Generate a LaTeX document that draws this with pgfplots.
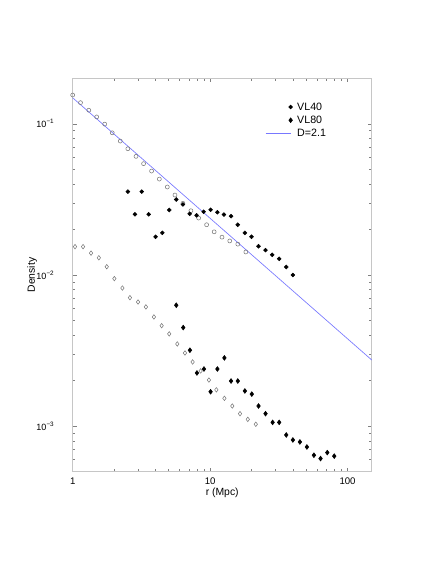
\documentclass[border=0pt]{standalone}
\usepackage{fontspec}
\setmainfont{Liberation Sans}
\usepackage{pgfplots}
\usepackage{pgfplotstable}
\pgfplotsset{compat=1.18}
\definecolor{lineblue}{RGB}{120,120,255}
\definecolor{opengray}{RGB}{120,120,120}

\pgfplotstableread{
r y
1.00 0.155
1.14 0.138
1.31 0.123
1.495 0.111
1.71 0.0995
1.94 0.0872
2.22 0.0769
2.52 0.0684
2.89 0.0609
3.28 0.0545
3.75 0.0487
4.27 0.0431
4.88 0.0382
5.55 0.0338
6.34 0.0298
7.25 0.0266
8.25 0.0238
9.43 0.0215
10.7 0.0193
12.2 0.0178
13.9 0.0168
15.9 0.0160
18.2 0.0142
}\upperopen

\pgfplotstableread{
r y
1.04 0.0154
1.19 0.0154
1.36 0.01396
1.55 0.0130
1.77 0.01134
2.01 0.00946
2.30 0.0082
2.61 0.00708
2.99 0.00663
3.41 0.00615
3.90 0.00528
4.44 0.00462
5.04 0.00408
5.77 0.00350
6.56 0.00305
7.46 0.00266
8.53 0.00232
9.80 0.00202
11.1 0.00174
12.7 0.00153
14.5 0.00136
16.5 0.00121
18.8 0.00111
21.5 0.00103
}\loweropen

\pgfplotstableread{
r y
2.52 0.0356
2.84 0.0252
3.18 0.0356
3.57 0.0252
4.01 0.0179
4.49 0.0190
5.04 0.0269
5.67 0.0316
6.34 0.0293
7.10 0.0254
7.97 0.0248
8.97 0.0262
10.08 0.0270
11.3 0.0260
12.6 0.0251
14.2 0.0245
15.9 0.0215
17.9 0.0190
20.0 0.0179
22.5 0.0155
25.3 0.0146
28.3 0.0136
31.8 0.0128
35.8 0.0113
40.0 0.0100
}\vlforty

\pgfplotstableread{
r y
5.67 0.00631
6.37 0.00449
7.13 0.00318
8.02 0.00225
9.02 0.00239
10.08 0.00169
11.3 0.00239
12.7 0.00283
14.2 0.00199
15.9 0.00199
17.9 0.00171
20.1 0.00163
22.5 0.00136
25.3 0.00121
28.5 0.00106
31.8 0.00106
35.8 0.000875
40.0 0.000811
45.0 0.000787
50.6 0.000729
56.9 0.000643
63.6 0.000611
71.2 0.000669
80.0 0.000634
}\vleighty

\begin{document}
\begin{tikzpicture}
\useasboundingbox (-54.5pt,-69.2pt) rectangle (272.45pt,353.7pt);
\begin{axis}[
  scale only axis, width=224.25pt, height=295pt,
  xmode=log, ymode=log,
  xmin=1, xmax=150, ymin=5e-4, ymax=0.2,
  xtick={1,10,100}, xticklabels={1,10,100},
  minor xtick={2,3,4,5,6,7,8,9,20,30,40,50,60,70,80,90},
  ytick={1e-3,1e-2,1e-1},
  yticklabels={10\textsuperscript{−3},10\textsuperscript{−2},10\textsuperscript{−1}},
  minor ytick={6e-4,7e-4,8e-4,9e-4,2e-3,3e-3,4e-3,5e-3,6e-3,7e-3,8e-3,9e-3,2e-2,3e-2,4e-2,5e-2,6e-2,7e-2,8e-2,9e-2},
  tick align=inside,
  major tick length=3pt, minor tick length=1.8pt,
  every tick/.style={gray, line width=0.4pt},
  axis line style={draw=gray!45, line width=0.8pt},
  xticklabel style={font=\fontsize{7.2}{8}\selectfont, yshift=-1.2pt},
  yticklabel style={font=\fontsize{6.8}{8}\selectfont, inner sep=0pt, anchor=east, xshift=-13.5pt},
  xlabel={r (Mpc)}, ylabel={Density},
  label style={font=\fontsize{7.8}{9}\selectfont},
  xlabel style={at={(axis description cs:0.5,0)}, anchor=center, yshift=-16pt},
  ylabel style={at={(axis description cs:0,0.5)}, anchor=center, yshift=30.3pt},
  legend style={draw=none, fill=none, inner sep=0pt, at={(axis description cs:0.643,0.942)}, anchor=north west,
    font=\fontsize{8}{9}\selectfont, row sep=1.4pt, column sep=3pt,
    nodes={inner sep=0.5pt, text height=6pt, text depth=1.5pt}},
  legend cell align=left,
]
\addplot[only marks, mark=o, mark size=1.5pt, mark options={draw=opengray, line width=0.4pt}, forget plot] table[x=r,y=y] {\upperopen};
\addplot[only marks, mark=diamond, mark size=1.7pt, mark options={draw=opengray, line width=0.4pt}, forget plot] table[x=r,y=y] {\loweropen};
\addplot[only marks, mark=*, mark size=1.45pt, black,
  legend image code/.code={\path[fill=black, draw=black] plot[mark=*, mark size=1.45pt] coordinates {(0.66cm,0cm)};}] table[x=r,y=y] {\vlforty};
\addlegendentry{VL40}
\addplot[only marks, mark=diamond*, mark size=1.8pt, black,
  legend image code/.code={\path[fill=black, draw=black] plot[mark=diamond*, mark size=1.8pt] coordinates {(0.66cm,0cm)};}] table[x=r,y=y] {\vleighty};
\addlegendentry{VL80}
\addplot[lineblue, line width=0.5pt,
  legend image code/.code={\path[draw=lineblue, color=lineblue, line width=0.5pt] (0cm,0cm) -- (0.66cm,0cm);}] coordinates {(1,0.1486) (150,0.00274)};
\addlegendentry{D=2.1}
\node[font=\fontsize{11.4}{13}\selectfont, anchor=center] at (rel axis cs:0.5,1) [yshift=27.2pt] {LEDA14.5};
\end{axis}
\end{tikzpicture}
\end{document}
